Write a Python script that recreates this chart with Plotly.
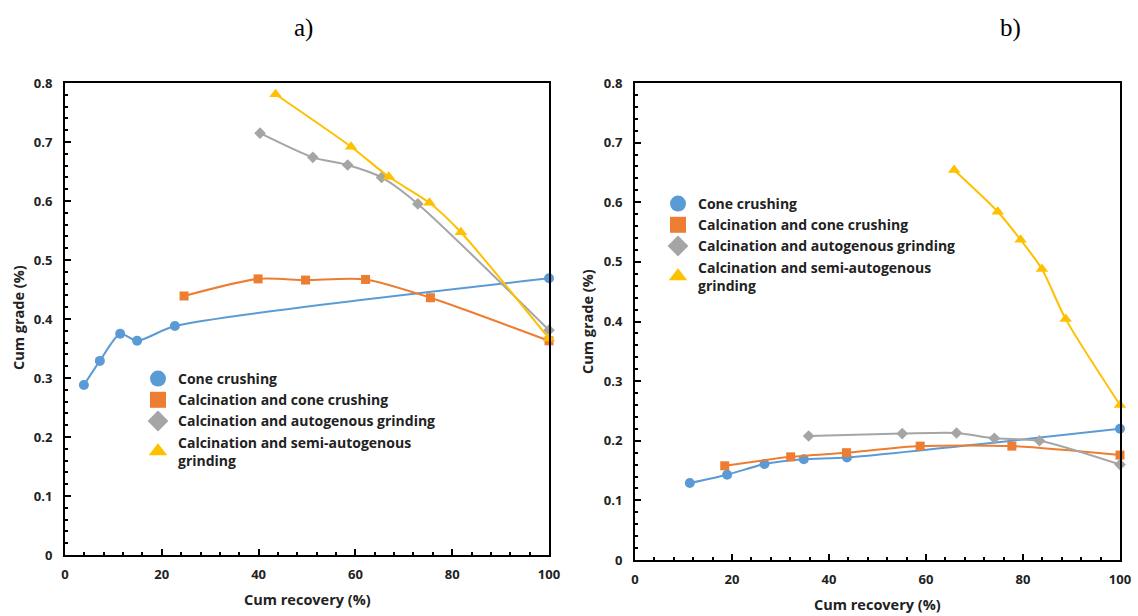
import plotly.graph_objects as go

W, H = 1138, 616

names = ["Cone crushing", "Calcination and cone crushing",
         "Calcination and autogenous grinding",
         "Calcination and semi-autogenous<br>grinding"]
colors = ["#5B9BD5", "#ED7D31", "#A5A5A5", "#FFC000"]
symbols = ["circle", "square", "diamond", "triangle-up"]
msizes = [10, 9, 9, 11]

# Panel a)
a_cone_x = [3.9, 7.2, 11.4, 14.9, 22.7, 100]
a_cone_y = [0.288, 0.329, 0.375, 0.363, 0.388, 0.469]
a_calc_cone_x = [24.6, 39.9, 49.7, 62.1, 75.5, 100]
a_calc_cone_y = [0.439, 0.468, 0.466, 0.467, 0.436, 0.363]
a_auto_x = [40.3, 51.2, 58.4, 65.4, 72.9, 100]
a_auto_y = [0.715, 0.674, 0.661, 0.640, 0.595, 0.381]
a_semi_x = [43.5, 59.1, 66.9, 75.3, 81.8, 100]
a_semi_y = [0.781, 0.692, 0.641, 0.597, 0.547, 0.367]

# Panel b)
b_cone_x = [11.3, 19.0, 26.7, 34.8, 43.7, 100]
b_cone_y = [0.129, 0.143, 0.161, 0.169, 0.172, 0.220]
b_calc_cone_x = [18.5, 32.1, 43.6, 58.8, 77.7, 100]
b_calc_cone_y = [0.158, 0.173, 0.180, 0.191, 0.191, 0.176]
b_auto_x = [35.8, 55.1, 66.3, 74.1, 83.4, 100]
b_auto_y = [0.208, 0.212, 0.213, 0.204, 0.200, 0.160]
b_semi_x = [65.8, 74.8, 79.5, 83.9, 88.8, 100]
b_semi_y = [0.654, 0.584, 0.537, 0.488, 0.404, 0.260]

x_ticks = [0, 20, 40, 60, 80, 100]
y_ticks = [0, 0.1, 0.2, 0.3, 0.4, 0.5, 0.6, 0.7, 0.8]

panels = [
    ("x", "y", "legend",
     [(a_cone_x, a_cone_y), (a_calc_cone_x, a_calc_cone_y),
      (a_auto_x, a_auto_y), (a_semi_x, a_semi_y)]),
    ("x2", "y2", "legend2",
     [(b_cone_x, b_cone_y), (b_calc_cone_x, b_calc_cone_y),
      (b_auto_x, b_auto_y), (b_semi_x, b_semi_y)]),
]

fig = go.Figure()
for xa, ya, lg, series in panels:
    for i, (xs, ys) in enumerate(series):
        fig.add_trace(go.Scatter(
            x=xs, y=ys, xaxis=xa, yaxis=ya, mode="lines+markers",
            line=dict(color=colors[i], width=2, shape="spline", smoothing=0.7),
            marker=dict(color=colors[i], symbol=symbols[i], size=msizes[i]),
            showlegend=False, cliponaxis=False))
    for i in range(4):
        fig.add_trace(go.Scatter(
            x=[None], y=[None], xaxis=xa, yaxis=ya, mode="markers",
            marker=dict(color=colors[i], symbol=symbols[i], size=16),
            name=names[i], legend=lg, showlegend=True))

tickfont = dict(family="Open Sans", size=13, color="#222", weight="bold")
axis_common = dict(
    showgrid=False, zeroline=False, showline=True,
    linecolor="black", linewidth=2, mirror=True, ticks="inside",
    ticklen=6, tickwidth=1.5, tickcolor="black", tickfont=tickfont,
    automargin=False)

def px_x(p):
    return p / W

def px_y(p):
    return 1 - p / H

x_minor = dict(ticks="inside", dtick=4, ticklen=3, tickcolor="black")
y_minor = dict(ticks="inside", dtick=0.02, ticklen=3, tickcolor="black")
legend_font = dict(family="Open Sans", size=14, color="#222", weight="bold")

fig.update_layout(
    width=W, height=H, margin=dict(l=0, r=0, t=0, b=0),
    paper_bgcolor="white", plot_bgcolor="white",
    xaxis=dict(domain=[px_x(65), px_x(549)], range=[0, 100],
               tickvals=x_ticks, anchor="y", ticklabelstandoff=6,
               minor=x_minor, **axis_common),
    yaxis=dict(domain=[px_y(555), px_y(83)], range=[0, 0.8],
               tickvals=y_ticks, anchor="x", ticklabelstandoff=8,
               minor=y_minor, **axis_common),
    xaxis2=dict(domain=[px_x(635), px_x(1120)], range=[0, 100],
                tickvals=x_ticks, anchor="y2", ticklabelstandoff=6,
                minor=x_minor, **axis_common),
    yaxis2=dict(domain=[px_y(560), px_y(83)], range=[0, 0.8],
                tickvals=y_ticks, anchor="x2", ticklabelstandoff=8,
                minor=y_minor, **axis_common),
    legend=dict(x=px_x(138), y=px_y(363), xanchor="left", yanchor="top",
                bgcolor="rgba(0,0,0,0)", font=legend_font),
    legend2=dict(x=px_x(658), y=px_y(188), xanchor="left", yanchor="top",
                 bgcolor="rgba(0,0,0,0)", font=legend_font),
)

ann_font = dict(family="Open Sans", size=14.5, color="#222", weight="bold")
panel_font = dict(family="Liberation Serif", size=25, color="black")
annotations = [
    dict(text="a)", x=px_x(303), y=px_y(28), font=panel_font),
    dict(text="b)", x=px_x(1010), y=px_y(28), font=panel_font),
    dict(text="Cum recovery (%)", x=px_x(307), y=px_y(599), font=ann_font),
    dict(text="Cum recovery (%)", x=px_x(877), y=px_y(604), font=ann_font),
    dict(text="Cum grade (%)", x=px_x(18), y=px_y(318), textangle=-90, font=ann_font),
    dict(text="Cum grade (%)", x=px_x(587), y=px_y(322), textangle=-90, font=ann_font),
]
for a in annotations:
    fig.add_annotation(xref="paper", yref="paper", showarrow=False,
                       xanchor="center", yanchor="middle", **a)

fig.write_html("out.html")
